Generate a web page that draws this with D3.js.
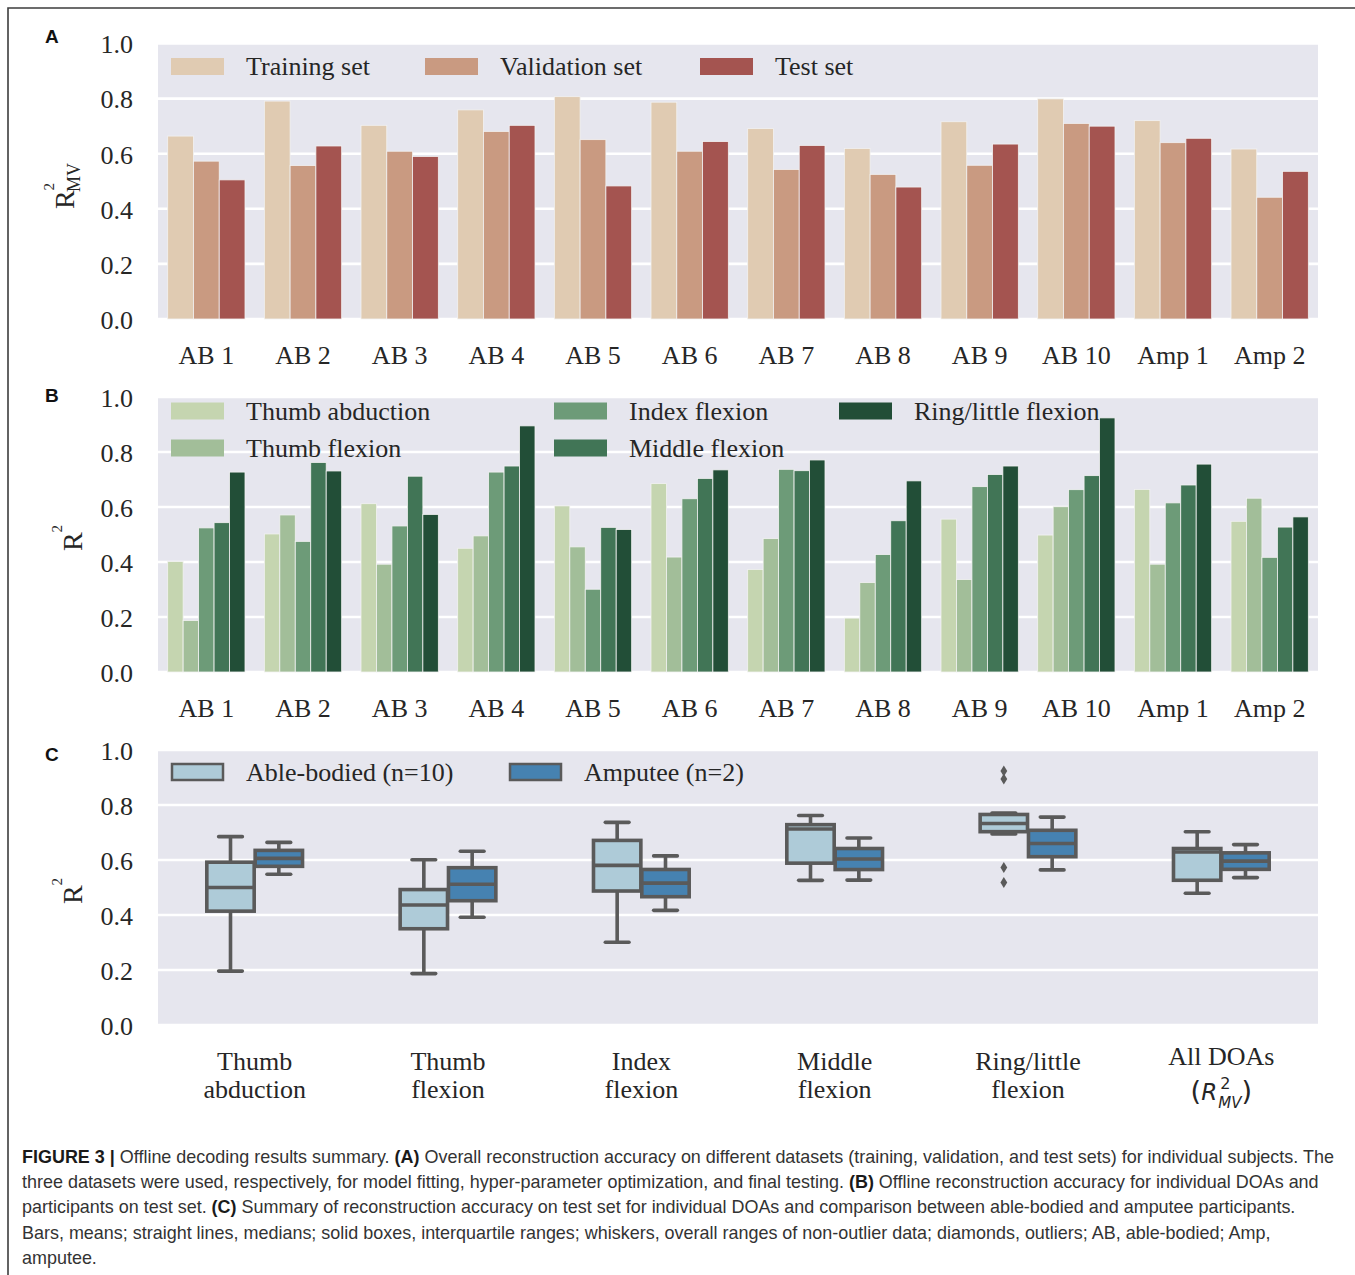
<!DOCTYPE html>
<html><head><meta charset="utf-8">
<script src="https://cdn.jsdelivr.net/npm/d3@7/dist/d3.min.js"></script>
<style>body{margin:0;background:#fff;} svg{display:block}</style>
</head><body><svg id="fig" width="1355" height="1275"></svg>
<script>
// ---------- DATA ----------
const subjects = ["AB 1","AB 2","AB 3","AB 4","AB 5","AB 6","AB 7","AB 8","AB 9","AB 10","Amp 1","Amp 2"];
const setNames = ["Training set","Validation set","Test set"];
const trainR2 = [0.664,0.791,0.703,0.759,0.807,0.787,0.691,0.619,0.716,0.799,0.720,0.617];
const valR2   = [0.573,0.557,0.609,0.681,0.651,0.609,0.543,0.525,0.558,0.710,0.640,0.442];
const testR2  = [0.505,0.628,0.590,0.703,0.483,0.644,0.630,0.479,0.635,0.700,0.656,0.536];

const doaNames = ["Thumb abduction","Thumb flexion","Index flexion","Middle flexion","Ring/little flexion"];
const thumbAbduction = [0.402,0.502,0.612,0.450,0.604,0.685,0.373,0.196,0.556,0.498,0.664,0.548];
const thumbFlexion   = [0.187,0.571,0.392,0.495,0.455,0.418,0.485,0.325,0.336,0.601,0.392,0.632];
const indexFlexion   = [0.524,0.475,0.531,0.727,0.301,0.630,0.737,0.427,0.674,0.663,0.615,0.417];
const middleFlexion  = [0.543,0.762,0.712,0.749,0.526,0.704,0.732,0.550,0.718,0.714,0.680,0.527];
const ringLittleFlexion = [0.727,0.731,0.573,0.895,0.518,0.735,0.771,0.695,0.749,0.924,0.756,0.564];

const groupNames = ["Able-bodied (n=10)","Amputee (n=2)"];
const boxCategories = ["Thumb abduction","Thumb flexion","Index flexion","Middle flexion","Ring/little flexion","All DOAs"];
const boxTickLines = [["Thumb","abduction"],["Thumb","flexion"],["Index","flexion"],["Middle","flexion"],["Ring/little","flexion"],["All DOAs",""]];
const yTicks = [0.0,0.2,0.4,0.6,0.8,1.0];

const captionLines = [
  [["FIGURE 3 | ",1],["Offline decoding results summary. ",0],["(A)",1],[" Overall reconstruction accuracy on different datasets (training, validation, and test sets) for individual subjects. The",0]],
  [["three datasets were used, respectively, for model fitting, hyper-parameter optimization, and final testing. ",0],["(B)",1],[" Offline reconstruction accuracy for individual DOAs and",0]],
  [["participants on test set. ",0],["(C)",1],[" Summary of reconstruction accuracy on test set for individual DOAs and comparison between able-bodied and amputee participants.",0]],
  [["Bars, means; straight lines, medians; solid boxes, interquartile ranges; whiskers, overall ranges of non-outlier data; diamonds, outliers; AB, able-bodied; Amp,",0]],
  [["amputee.",0]]
];

// ---------- STYLE ----------
const serif = "'Liberation Serif','Times New Roman',serif";
const sans = "'Liberation Sans',Arial,sans-serif";
const textCol = "#262626";
const bgCol = "#e6e6ee";
const colA = ["#e0cbb2","#c99a81","#a45450"];
const colB = ["#c5d5b0","#a2be99","#6d9b78","#417556","#224e37"];
const colC = ["#aecbd8","#4682b1"];
const boxLine = "#5a5a5a";
const X0 = 158, X1 = 1318;

const svg = d3.select("#fig");
svg.append("rect").attr("width",1355).attr("height",1275).attr("fill","#fff");
svg.append("path").attr("d","M8,1275 V8 H1355").attr("fill","none").attr("stroke","#3d3d3d").attr("stroke-width",1.6);

function frame(yBottom, yTop) {
  const y = d3.scaleLinear().domain([0,1]).range([yBottom, yTop]);
  const g = svg.append("g");
  g.append("rect").attr("x",X0).attr("y",yTop).attr("width",X1-X0).attr("height",yBottom-yTop).attr("fill",bgCol);
  g.selectAll("line.grid").data(yTicks).join("line").attr("class","grid")
    .attr("x1",X0).attr("x2",X1).attr("y1",d=>y(d)).attr("y2",d=>y(d))
    .attr("stroke","#fff").attr("stroke-width",2.6);
  const ax = svg.append("g").attr("transform",`translate(${X0},0)`)
    .call(d3.axisLeft(y).tickValues(yTicks).tickFormat(d3.format(".1f")).tickSize(0).tickPadding(25));
  ax.select(".domain").remove();
  ax.selectAll("text").attr("font-family",serif).attr("font-size",26).attr("fill",textCol).attr("dy","0.36em");
  return y;
}

function panelLetter(t, yb) {
  svg.append("text").attr("x",45).attr("y",yb).text(t)
    .attr("font-family",sans).attr("font-weight","bold").attr("font-size",19).attr("fill","#111");
}

function yLabel(cx, cy, sub) {
  const t = svg.append("text").attr("transform",`translate(${cx},${cy}) rotate(-90)`)
    .attr("text-anchor","middle").attr("font-family",serif).attr("font-size",28).attr("fill",textCol);
  t.append("tspan").text("R");
  t.append("tspan").attr("font-size",15).attr("dy",-20).text("2");
  if (sub) t.append("tspan").attr("font-size",18).attr("dx",-9).attr("dy",26).text(sub);
}

function legendItem(x, yc, color, label, stroke) {
  const r = svg.append("rect").attr("x",x).attr("y",yc-8.5).attr("width",53).attr("height",17).attr("fill",color);
  if (stroke) r.attr("stroke",stroke).attr("stroke-width",2.5).attr("x",x+1).attr("width",51).attr("y",yc-8).attr("height",16);
  svg.append("text").attr("x",x+75).attr("y",yc).attr("dy","0.33em").text(label)
    .attr("font-family",serif).attr("font-size",26).attr("fill",textCol);
}

function xAxisBands(xScale, yBottom) {
  const ax = svg.append("g").attr("transform",`translate(0,${yBottom})`)
    .call(d3.axisBottom(xScale).tickSize(0));
  ax.select(".domain").remove();
  ax.selectAll("text").attr("font-family",serif).attr("font-size",26).attr("fill",textCol)
    .attr("y",36).attr("dy","0.35em");
}

// ---------- PANEL A ----------
{
  const y = frame(319, 43.5);
  const x = d3.scaleBand().domain(subjects).range([X0,X1]);
  const xi = d3.scaleBand().domain(setNames).range([-0.4*x.bandwidth(), 0.4*x.bandwidth()]);
  const series = [trainR2, valR2, testR2];
  series.forEach((vals, si) => {
    svg.append("g").selectAll("rect").data(subjects).join("rect")
      .attr("x", d => x(d) + x.bandwidth()/2 + xi(setNames[si]))
      .attr("width", xi.bandwidth())
      .attr("y", (d,i) => y(vals[i]))
      .attr("height", (d,i) => y(0) - y(vals[i]))
      .attr("fill", colA[si]).attr("stroke","#f2f2f2").attr("stroke-width",0.8);
  });
  xAxisBands(x, 319);
  legendItem(171, 66.5, colA[0], setNames[0]);
  legendItem(425, 66.5, colA[1], setNames[1]);
  legendItem(700, 66.5, colA[2], setNames[2]);
  panelLetter("A", 43);
  yLabel(74, 186, "MV");
}

// ---------- PANEL B ----------
const doaSeries = [thumbAbduction, thumbFlexion, indexFlexion, middleFlexion, ringLittleFlexion];
{
  const y = frame(672, 397);
  const x = d3.scaleBand().domain(subjects).range([X0,X1]);
  const xi = d3.scaleBand().domain(doaNames).range([-0.4*x.bandwidth(), 0.4*x.bandwidth()]);
  doaSeries.forEach((vals, si) => {
    svg.append("g").selectAll("rect").data(subjects).join("rect")
      .attr("x", d => x(d) + x.bandwidth()/2 + xi(doaNames[si]))
      .attr("width", xi.bandwidth())
      .attr("y", (d,i) => y(vals[i]))
      .attr("height", (d,i) => y(0) - y(vals[i]))
      .attr("fill", colB[si]).attr("stroke","#f2f2f2").attr("stroke-width",0.8);
  });
  xAxisBands(x, 672);
  legendItem(171, 411, colB[0], doaNames[0]);
  legendItem(171, 448, colB[1], doaNames[1]);
  legendItem(554, 411, colB[2], doaNames[2]);
  legendItem(554, 448, colB[3], doaNames[3]);
  legendItem(839, 411, colB[4], doaNames[4]);
  panelLetter("B", 402);
  yLabel(82, 538, null);
}

// ---------- PANEL C ----------
function boxStats(vals) {
  const s = vals.slice().sort(d3.ascending);
  const q1 = d3.quantileSorted(s,0.25), med = d3.quantileSorted(s,0.5), q3 = d3.quantileSorted(s,0.75);
  const iqr = q3 - q1, lo = q1 - 1.5*iqr, hi = q3 + 1.5*iqr;
  const inside = s.filter(v => v >= lo && v <= hi);
  return {q1, med, q3, wlo: d3.min(inside), whi: d3.max(inside), out: s.filter(v => v < lo || v > hi)};
}
{
  const y = frame(1025, 750);
  const x = d3.scaleBand().domain(boxCategories).range([X0,X1]);
  const hue = d3.scaleBand().domain(groupNames).range([-0.25*x.bandwidth(), 0.25*x.bandwidth()]);
  const allSeries = doaSeries.concat([testR2]);
  const boxes = [];
  boxCategories.forEach((c, ci) => {
    const vals = allSeries[ci];
    [vals.slice(0,10), vals.slice(10)].forEach((gv, gi) => {
      boxes.push(Object.assign({cat:c, gi, cx: x(c) + x.bandwidth()/2 + hue(groupNames[gi]) + hue.bandwidth()/2}, boxStats(gv)));
    });
  });
  const bw = hue.bandwidth()*0.98;
  const g = svg.append("g");
  boxes.forEach(b => {
    const gg = g.append("g");
    gg.append("line").attr("x1",b.cx).attr("x2",b.cx).attr("y1",y(b.q3)).attr("y2",y(b.whi)).attr("stroke",boxLine).attr("stroke-width",3.6);
    gg.append("line").attr("x1",b.cx).attr("x2",b.cx).attr("y1",y(b.q1)).attr("y2",y(b.wlo)).attr("stroke",boxLine).attr("stroke-width",3.6);
    [b.whi, b.wlo].forEach(v => gg.append("line").attr("x1",b.cx-bw/4).attr("x2",b.cx+bw/4).attr("y1",y(v)).attr("y2",y(v))
      .attr("stroke",boxLine).attr("stroke-width",3.6).attr("stroke-linecap","round"));
    gg.append("rect").attr("x",b.cx-bw/2).attr("width",bw).attr("y",y(b.q3)).attr("height",y(b.q1)-y(b.q3))
      .attr("fill",colC[b.gi]).attr("stroke",boxLine).attr("stroke-width",3.6);
    gg.append("line").attr("x1",b.cx-bw/2).attr("x2",b.cx+bw/2).attr("y1",y(b.med)).attr("y2",y(b.med)).attr("stroke",boxLine).attr("stroke-width",3.6);
    gg.selectAll("path").data(b.out).join("path")
      .attr("transform", v => `translate(${b.cx},${y(v)})`)
      .attr("d","M0,-5.5L3.4,0L0,5.5L-3.4,0Z").attr("fill",boxLine);
  });
  // x axis with two-line labels
  const ax = svg.append("g").attr("transform","translate(0,1025)").call(d3.axisBottom(x).tickSize(0).tickFormat(""));
  ax.select(".domain").remove();
  ax.selectAll(".tick").each(function(d, i) {
    const lines = boxTickLines[i];
    const t = d3.select(this).append("text").attr("text-anchor","middle").attr("font-family",serif).attr("font-size",26).attr("fill",textCol);
    if (i < 5) {
      t.append("tspan").attr("x",0).attr("y",45).text(lines[0]);
      t.append("tspan").attr("x",0).attr("y",73).text(lines[1]);
    } else {
      t.append("tspan").attr("x",0).attr("y",40).text(lines[0]);
      const m = d3.select(this).append("text").attr("x",0).attr("y",75).attr("text-anchor","middle")
        .attr("font-family","'DejaVu Sans',sans-serif").attr("font-size",27).attr("fill",textCol);
      m.append("tspan").text("(");
      m.append("tspan").attr("font-style","italic").attr("font-size",23).text("R");
      m.append("tspan").attr("font-size",16).attr("dx",3).attr("dy",-11).text("2");
      m.append("tspan").attr("font-size",15).attr("font-style","italic").attr("dx",-12).attr("dy",19).text("MV");
      m.append("tspan").attr("dy",-8).text(")");
    }
  });
  legendItem(171, 772, colC[0], groupNames[0], boxLine);
  legendItem(509, 772, colC[1], groupNames[1], boxLine);
  panelLetter("C", 761);
  yLabel(82, 891, null);
}

// ---------- CAPTION ----------
{
  const cap = svg.append("g").attr("font-family",sans).attr("fill","#2a2a2a");
  const base = 17;
  const lines = captionLines.map((segs, li) => {
    const t = cap.append("text").attr("x",22).attr("y",1163 + li*25.2).attr("font-size",base);
    segs.forEach(s => t.append("tspan").attr("font-weight", s[1] ? "bold" : "normal").attr("fill", s[1] ? "#1a1a1a" : "#333").text(s[0]));
    return t;
  });
  const w = lines[0].node().getComputedTextLength();
  const fs = base * 1313 / w;
  lines.forEach(t => t.attr("font-size", fs));
}
</script>
</body></html>
